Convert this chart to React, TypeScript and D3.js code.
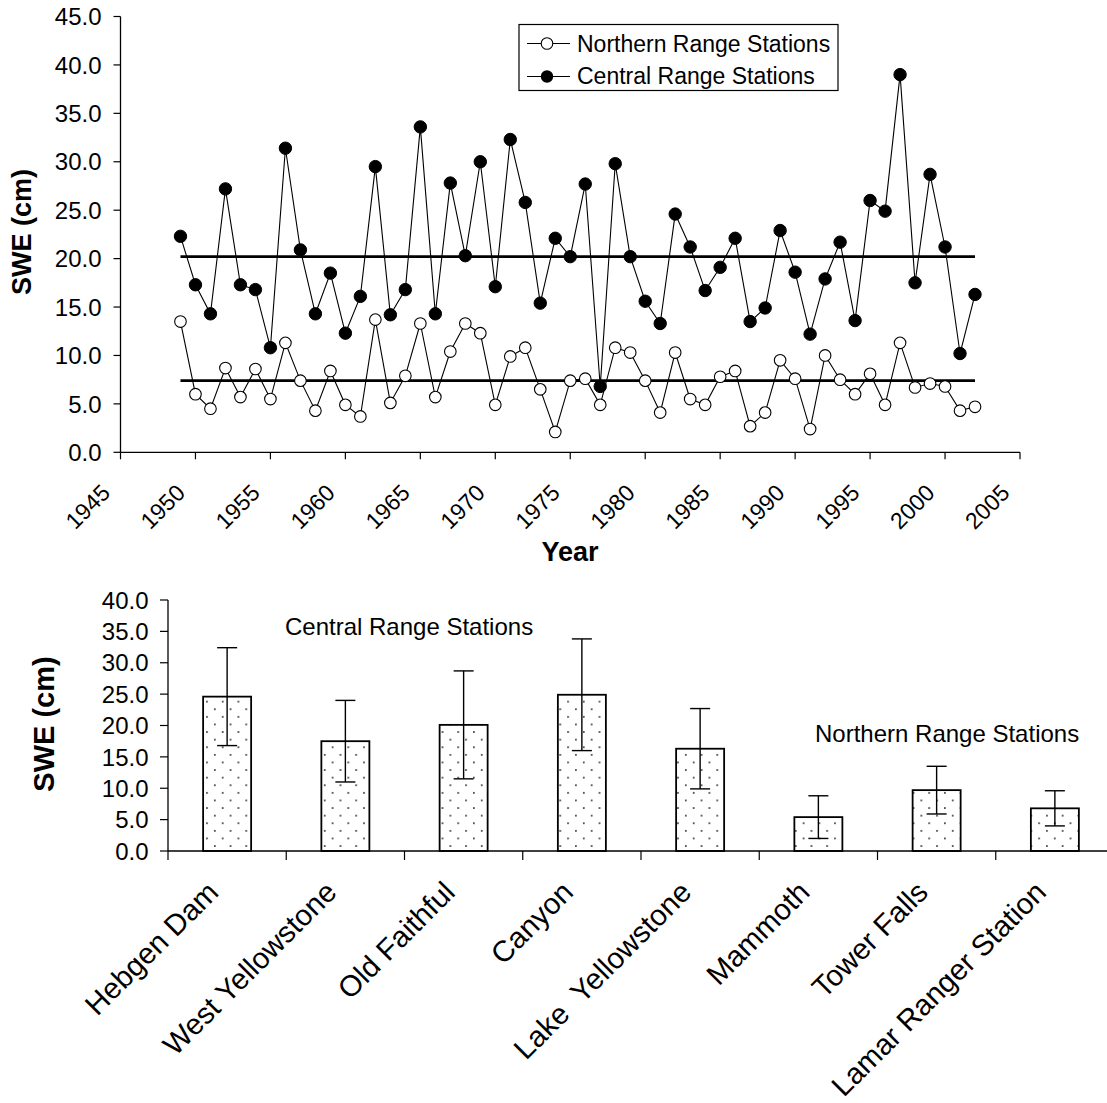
import React from "react";
import * as d3 from "d3";

const startYear = 1949;
const northern = [13.5, 6.0, 4.5, 8.7, 5.7, 8.6, 5.5, 11.3, 7.4, 4.3, 8.4, 4.9, 3.7, 13.7, 5.1, 7.9, 13.3, 5.7, 10.4, 13.3, 12.3, 4.9, 9.9, 10.8, 6.5, 2.1, 7.4, 7.6, 4.9, 10.8, 10.3, 7.4, 4.1, 10.3, 5.5, 4.9, 7.8, 8.4, 2.7, 4.1, 9.5, 7.6, 2.4, 10.0, 7.5, 6.0, 8.1, 4.9, 11.3, 6.7, 7.1, 6.8, 4.3, 4.7];
const central = [22.3, 17.3, 14.3, 27.2, 17.3, 16.8, 10.8, 31.4, 20.9, 14.3, 18.5, 12.3, 16.1, 29.5, 14.2, 16.8, 33.6, 14.3, 27.8, 20.3, 30.0, 17.1, 32.3, 25.8, 15.4, 22.1, 20.2, 27.7, 6.8, 29.8, 20.2, 15.6, 13.3, 24.6, 21.2, 16.7, 19.1, 22.1, 13.5, 14.9, 22.9, 18.6, 12.2, 17.9, 21.7, 13.6, 26.0, 24.9, 39.0, 17.5, 28.7, 21.2, 10.2, 16.3];
const northernMean = 7.4;
const centralMean = 20.2;
const yearTicks = [1945, 1950, 1955, 1960, 1965, 1970, 1975, 1980, 1985, 1990, 1995, 2000, 2005];
const topYTicks = [0, 5, 10, 15, 20, 25, 30, 35, 40, 45];

const stations = ["Hebgen Dam", "West Yellowstone", "Old Faithful", "Canyon", "Lake  Yellowstone", "Mammoth", "Tower Falls", "Lamar Ranger Station"];
const stationMeans = [24.6, 17.5, 20.1, 24.9, 16.3, 5.4, 9.7, 6.8];
const stationSD = [7.8, 6.5, 8.6, 8.9, 6.4, 3.4, 3.8, 2.8];
const bottomYTicks = [0, 5, 10, 15, 20, 25, 30, 35, 40];

const FONT = "'Liberation Sans', Arial, sans-serif";

export default function App() {
  const years = northern.map((_, i) => startYear + i);
  const x = d3.scaleLinear().domain([1945, 2005]).range([120.5, 1020]);
  const y = d3.scaleLinear().domain([0, 45]).range([452.3, 16.5]);
  const line = d3.line<number>().x((_, i) => x(years[i])).y((d) => y(d)).curve(d3.curveLinear);

  const xb = d3.scaleBand<string>().domain(stations).range([168, 1114]).padding(0);
  const yb = d3.scaleLinear().domain([0, 40]).range([851, 600]);
  const bw = xb.bandwidth() * 0.406;

  const firstX = x(years[0]);
  const lastX = x(years[years.length - 1]);

  return (
    <svg width={1107} height={1103} style={{ position: "absolute", left: 0, top: 0, background: "#fff" }} fontFamily={FONT}>
      <defs>
        <pattern id="dots" patternUnits="userSpaceOnUse" x={2} y={1.5} width={15.7} height={15.2}>
          <rect width={15.7} height={15.2} fill="#fff" />
          <circle cx={0.9} cy={0.9} r={0.9} fill="#222" />
          <circle cx={8.75} cy={8.5} r={0.9} fill="#222" />
        </pattern>
      </defs>
      <rect width={1107} height={1103} fill="#fff" />

      {/* ---------- Top chart ---------- */}
      <line x1={x(1945)} x2={x(1945)} y1={y(45)} y2={y(0)} stroke="#000" strokeWidth={1.3} />
      {topYTicks.map((t) => (
        <g key={"yt" + t}>
          <line x1={x(1945) - 7} x2={x(1945)} y1={y(t)} y2={y(t)} stroke="#000" strokeWidth={1.2} />
          <text x={101.5} y={y(t)} dy="0.36em" textAnchor="end" fontSize={24} fill="#000">
            {t.toFixed(1)}
          </text>
        </g>
      ))}
      <line x1={x(1945)} x2={x(2005)} y1={y(0)} y2={y(0)} stroke="#000" strokeWidth={1.3} />
      {yearTicks.map((t) => (
        <g key={"xt" + t}>
          <line x1={x(t)} x2={x(t)} y1={y(0)} y2={y(0) + 7} stroke="#000" strokeWidth={1.2} />
          <text transform={`translate(${x(t) - 9},${y(0) + 42}) rotate(-45)`} textAnchor="end" fontSize={23} fill="#000">
            {t}
          </text>
        </g>
      ))}
      <text x={570} y={561} textAnchor="middle" fontSize={27} fontWeight="bold">Year</text>
      <text transform={`translate(31,232) rotate(-90)`} textAnchor="middle" fontSize={27} fontWeight="bold">SWE (cm)</text>

      <line x1={firstX} x2={lastX} y1={y(centralMean)} y2={y(centralMean)} stroke="#000" strokeWidth={2.7} />
      <line x1={firstX} x2={lastX} y1={y(northernMean)} y2={y(northernMean)} stroke="#000" strokeWidth={2.7} />

      <path d={line(northern) || ""} fill="none" stroke="#000" strokeWidth={1.1} />
      <path d={line(central) || ""} fill="none" stroke="#000" strokeWidth={1.1} />
      {northern.map((v, i) => (
        <circle key={"n" + i} cx={x(years[i])} cy={y(v)} r={5.8} fill="#fff" stroke="#000" strokeWidth={1.1} />
      ))}
      {central.map((v, i) => (
        <circle key={"c" + i} cx={x(years[i])} cy={y(v)} r={6.2} fill="#000" stroke="#000" strokeWidth={1} />
      ))}

      <rect x={519} y={24.5} width={319} height={66} fill="#fff" stroke="#000" strokeWidth={1.2} />
      <line x1={527} x2={570} y1={43.5} y2={43.5} stroke="#000" strokeWidth={1.1} />
      <circle cx={547} cy={43.5} r={5.8} fill="#fff" stroke="#000" strokeWidth={1.1} />
      <text x={577} y={51.5} fontSize={23}>Northern Range Stations</text>
      <line x1={527} x2={570} y1={76.5} y2={76.5} stroke="#000" strokeWidth={1.1} />
      <circle cx={547} cy={76.5} r={6.2} fill="#000" />
      <text x={577} y={84} fontSize={23}>Central Range Stations</text>

      {/* ---------- Bottom chart ---------- */}
      {stations.map((s, i) => {
        const cx = (xb(s) as number) + xb.bandwidth() / 2;
        const m = stationMeans[i];
        const sd = stationSD[i];
        return (
          <g key={"b" + i}>
            <rect x={cx - bw / 2} y={yb(m)} width={bw} height={yb(0) - yb(m)} fill="url(#dots)" stroke="#000" strokeWidth={1.8} />
            <line x1={cx} x2={cx} y1={yb(m + sd)} y2={yb(m - sd)} stroke="#000" strokeWidth={1.4} />
            <line x1={cx - 10} x2={cx + 10} y1={yb(m + sd)} y2={yb(m + sd)} stroke="#000" strokeWidth={1.4} />
            <line x1={cx - 10} x2={cx + 10} y1={yb(m - sd)} y2={yb(m - sd)} stroke="#000" strokeWidth={1.4} />
          </g>
        );
      })}
      <line x1={168} x2={168} y1={yb(40)} y2={yb(0)} stroke="#000" strokeWidth={1.3} />
      {bottomYTicks.map((t) => (
        <g key={"byt" + t}>
          <line x1={160} x2={168} y1={yb(t)} y2={yb(t)} stroke="#000" strokeWidth={1.2} />
          <text x={148.5} y={yb(t)} dy="0.36em" textAnchor="end" fontSize={24}>
            {t.toFixed(1)}
          </text>
        </g>
      ))}
      <line x1={168} x2={1114} y1={yb(0)} y2={yb(0)} stroke="#000" strokeWidth={1.3} />
      {stations.map((s) => (
        <line key={"bt" + s} x1={xb(s) as number} x2={xb(s) as number} y1={yb(0)} y2={yb(0) + 9} stroke="#000" strokeWidth={1.2} />
      ))}
      {stations.map((s) => {
        const cx = (xb(s) as number) + xb.bandwidth() / 2;
        return (
          <text key={"bl" + s} transform={`translate(${cx - 7},${yb(0) + 43}) rotate(-45)`} textAnchor="end" fontSize={29.5} style={{ whiteSpace: "pre" }}>
            {s}
          </text>
        );
      })}
      <text transform={`translate(54,724) rotate(-90)`} textAnchor="middle" fontSize={29} fontWeight="bold">SWE (cm)</text>
      <text x={285} y={635} fontSize={24}>Central Range Stations</text>
      <text x={815} y={742} fontSize={24}>Northern Range Stations</text>
    </svg>
  );
}
